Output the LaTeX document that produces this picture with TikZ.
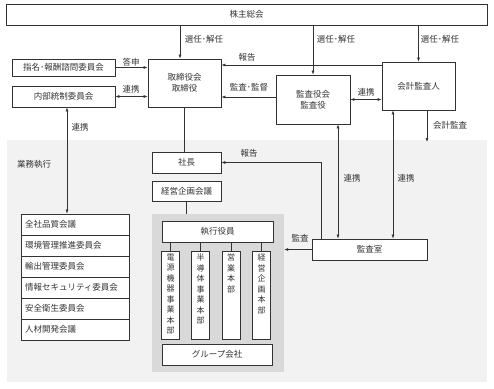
\documentclass[tikz,border=0pt]{standalone}
\usepackage{fontspec}
\setmainfont{Noto Sans CJK JP}
\usetikzlibrary{arrows.meta}
\definecolor{ink}{HTML}{333333}
\definecolor{pale}{HTML}{F2F2F2}
\definecolor{shade}{HTML}{D9D9D9}

\begin{document}
\begin{tikzpicture}[x=1pt,y=-1pt,font=\fontsize{8.5}{11}\selectfont,
      box/.style={draw=ink,line width=0.8pt,fill=white,inner sep=0pt,
                  align=center,text=ink},
      col/.style={box,minimum width=18pt,minimum height=88pt},
      row/.style={box,minimum width=108pt,minimum height=21pt,
                  text width=100pt,align=left},
      ln/.style={draw=ink,line width=0.6pt},
      arr/.style={ln,-{Latex[length=4pt,width=3pt]}},
      dbl/.style={ln,{Latex[length=4pt,width=3pt]}-{Latex[length=4pt,width=3pt]}},
      lbl/.style={inner sep=0pt,text=ink}]
    \useasboundingbox (0,0) rectangle (494,388);
    \fill[pale] (7,140) rectangle (487,382);
    \node[fill=shade,minimum width=132pt,minimum height=158pt] (exec) at (218,293) {};
    % top level
    \node[box,minimum width=481pt,minimum height=21pt] (kabu) at (246.5,14.5) {株主総会};
    \node[box,minimum width=73pt,minimum height=48pt] (tori) at (184.5,83)
      {取締役会\\取締役};
    \node[box,minimum width=74pt,minimum height=49pt] (kansayaku) at (313,99.5)
      {監査役会\\監査役};
    \node[box,minimum width=73pt,minimum height=48pt] (kaikei) at (418.5,86) {会計監査人};
    \node[box,minimum width=103pt,minimum height=17pt] (shimei) at (63.5,67.5)
      {指名･報酬諮問委員会};
    \node[box,minimum width=103pt,minimum height=21pt] (naibu) at (63.5,96.5)
      {内部統制委員会};
    % execution side
    \node[box,minimum width=69pt,minimum height=21pt] (shacho) at (186.5,162.5) {社長};
    \node[box,minimum width=69pt,minimum height=20pt] (keiei) at (186.5,191) {経営企画会議};
    \node[box,minimum width=115pt,minimum height=21pt] (kansashitsu) at (369.5,249.5)
      {監査室};
    \node[box,minimum width=111pt,minimum height=21pt] (shikkou) at (217.5,231.5)
      {執行役員};
    \node[box,minimum width=110pt,minimum height=21pt] (group) at (217,354.5)
      {グループ会社};
    \foreach \x/\t [count=\i] in {170.5/{電\\源\\機\\器\\事\\業\\本\\部},
        200.5/{半\\導\\体\\事\\業\\本\\部},231/{営\\業\\本\\部},
        261.5/{経\\営\\企\\画\\本\\部}}{
      \node[col] (c\i) at (\x,295) {};
      \node[lbl,anchor=north,align=center,font=\fontsize{8}{10.5}\selectfont]
        at ([yshift=-3pt]c\i.north) {\t};
      \draw[ln] (c\i.north) -- (c\i.north |- shikkou.south);
    }
    \foreach \t [count=\i] in {全社品質会議,環境管理推進委員会,輸出管理委員会,
        情報セキュリティ委員会,安全衛生委員会,人材開発会議}{
      \node[row] (l\i) at (75,203.5+21*\i) {\t};
    }
    % connectors
    \draw[arr] ([xshift=-4.5pt]tori.north |- kabu.south) -- ([xshift=-4.5pt]tori.north);
    \draw[arr] (kansayaku.north |- kabu.south) -- (kansayaku.north);
    \draw[arr] (kaikei.north |- kabu.south) -- (kaikei.north);
    \draw[arr] (shimei.east) -- (tori.west |- shimei.east);
    \draw[dbl] (naibu.east) -- (tori.west |- naibu.east);
    \draw[arr] (kaikei.west |- 0,65) -- (tori.east |- 0,65);
    \draw[arr] (kansayaku.west |- 0,97) -- (tori.east |- 0,97);
    \draw[dbl] (kansayaku.east) -- (kaikei.west |- kansayaku.east);
    \coordinate (kend) at (427,142);
    \draw[arr] (kaikei.south -| kend) -- (kend);
    \draw[dbl] (kansayaku.south -| 338,0) -- (kansashitsu.north -| 338,0);
    \draw[dbl] (kaikei.south -| 393,0) -- (kansashitsu.north -| 393,0);
    \draw[arr] (kansashitsu.north -| 321,0) |- (shacho.east);
    \draw[arr] (kansashitsu.west) -- (exec.east |- kansashitsu.west);
    \draw[ln] (tori.south) -- (tori.south |- shacho.north);
    \draw[ln] (keiei.south) -- (keiei.south |- exec.north);
    \draw[dbl] ([xshift=3.5pt]naibu.south) -- ([xshift=3.5pt]naibu.south |- l1.north);
    % labels
    \node[lbl] at (204,39) {選任･解任};
    \node[lbl] at (336,39) {選任･解任};
    \node[lbl] at (440,39) {選任･解任};
    \node[lbl] at (131,62) {答申};
    \node[lbl] at (131,89) {連携};
    \node[lbl] at (247,57) {報告};
    \node[lbl] at (249,87) {監査･監督};
    \node[lbl] at (366,92) {連携};
    \node[lbl] at (450,125) {会計監査};
    \node[lbl] at (352,178) {連携};
    \node[lbl] at (406,178) {連携};
    \node[lbl] at (249,153) {報告};
    \node[lbl] at (300,238) {監査};
    \node[lbl] at (80,127) {連携};
    \node[lbl] at (34,164) {業務執行};
  \end{tikzpicture}
\end{document}
